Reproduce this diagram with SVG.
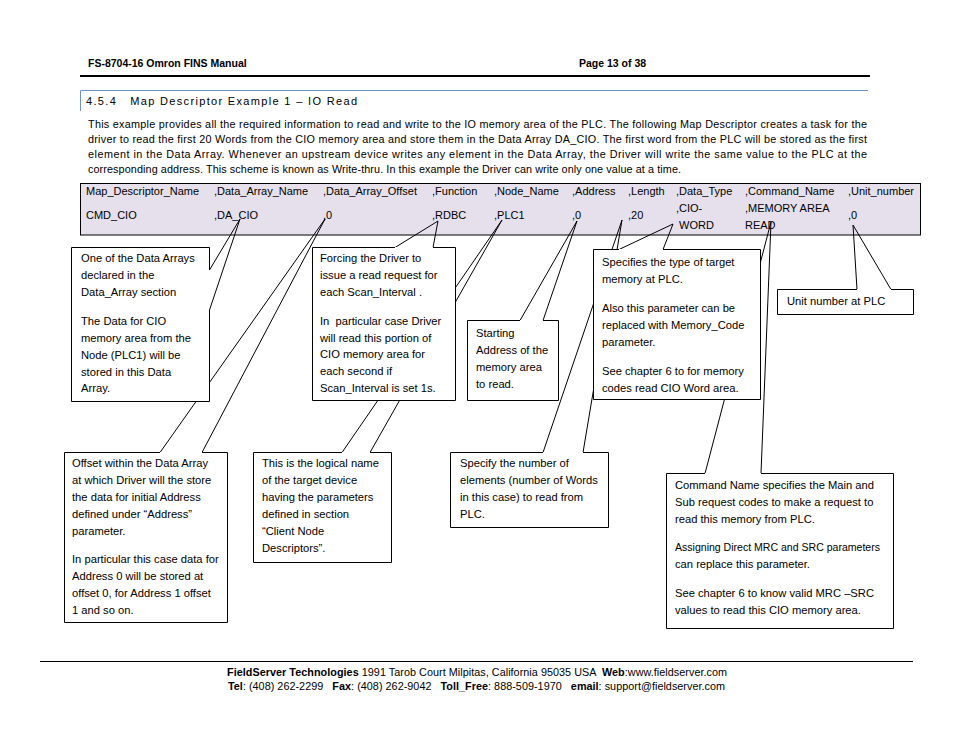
<svg xmlns="http://www.w3.org/2000/svg" width="954" height="738" viewBox="0 0 954 738">
<style>
.t{font-family:"Liberation Sans",Arial,sans-serif;font-size:11.2px;fill:#000}
.tb{font-family:"Liberation Sans",Arial,sans-serif;font-size:11px;fill:#000}
.h{font-family:"Liberation Sans",Arial,sans-serif;font-size:10.5px;font-weight:bold;fill:#000}
.body{font-family:"Liberation Sans",Arial,sans-serif;font-size:10.8px;fill:#000}
.ft{font-family:"Liberation Sans",Arial,sans-serif;font-size:10.8px;fill:#000;white-space:pre}
.bx{fill:#fff;stroke:none}
.ol{fill:none;stroke:#000;stroke-width:1}
.cn{fill:none;stroke:#000;stroke-width:1}
</style>
<rect width="954" height="738" fill="#fff"/>
<g id="page-header">
<text class="h" x="88" y="67">FS-8704-16 Omron FINS Manual</text>
<text class="h" x="579" y="67">Page 13 of 38</text>
<line x1="80" y1="76" x2="870" y2="76" stroke="#000" stroke-width="2"/>
</g>
<g id="heading">
<path d="M868,90.5 H80.5 V111" fill="none" stroke="#6f93c6" stroke-width="1"/>
<text class="tb" x="86" y="105" font-size="11.6" textLength="271" lengthAdjust="spacing" fill="#222" xml:space="preserve">4.5.4   Map Descriptor Example 1 – IO Read</text>
</g>
<g id="intro">
<text class="body" x="88" y="128" textLength="779" lengthAdjust="spacing">This example provides all the required information to read and write to the IO memory area of the PLC. The following Map Descriptor creates a task for the</text>
<text class="body" x="88" y="143" textLength="779" lengthAdjust="spacing">driver to read the first 20 Words from the CIO memory area and store them in the Data Array DA_CIO. The first word from the PLC will be stored as the first</text>
<text class="body" x="88" y="158" textLength="779" lengthAdjust="spacing">element in the Data Array. Whenever an upstream device writes any element in the Data Array, the Driver will write the same value to the PLC at the</text>
<text class="body" x="88" y="173" textLength="593" lengthAdjust="spacing">corresponding address. This scheme is known as Write-thru. In this example the Driver can write only one value at a time.</text>
</g>
<g id="table">
<rect x="80.5" y="183.5" width="840" height="51.5" fill="#e5e0ec" stroke="#000" stroke-width="1"/>
<text class="tb" y="195"><tspan x="86">Map_Descriptor_Name</tspan><tspan x="214">,Data_Array_Name</tspan><tspan x="323">,Data_Array_Offset</tspan><tspan x="432">,Function</tspan><tspan x="494">,Node_Name</tspan><tspan x="572">,Address</tspan><tspan x="628">,Length</tspan><tspan x="676">,Data_Type</tspan><tspan x="745">,Command_Name</tspan><tspan x="848">,Unit_number</tspan></text>
<text class="tb" y="219"><tspan x="86">CMD_CIO</tspan><tspan x="214">,DA_CIO</tspan><tspan x="323">,0</tspan><tspan x="432">,RDBC</tspan><tspan x="494">,PLC1</tspan><tspan x="572">,0</tspan><tspan x="628">,20</tspan><tspan x="848">,0</tspan></text>
<text class="tb" y="212"><tspan x="676">,CIO-</tspan><tspan x="745">,MEMORY AREA</tspan></text>
<text class="tb" y="229"><tspan x="679">WORD</tspan><tspan x="745">READ</tspan></text>
</g>
<g id="connectors">
<polyline class="cn" points="209.5,270 240,219 209.5,310"/>
<polyline class="cn" points="160,452.5 325,219 202,452.5"/>
<polyline class="cn" points="395,247.5 438,221 433,247.5"/>
<polyline class="cn" points="342,452.5 502,220 370,452.5"/>
<polyline class="cn" points="520,320.5 577,221 543,320.5"/>
<polyline class="cn" points="543,452.5 622,220 583,452.5"/>
<polyline class="cn" points="619,249.5 673,224 663,249.5"/>
<polyline class="cn" points="705,473.5 771,222 761,473.5"/>
<polyline class="cn" points="857,289.5 853,225 891,289.5"/>
</g>
<g id="note-offset">
<rect class="bx" x="64" y="452" width="163" height="170"/>
<path class="ol" d="M202,452.5 H227.5 V622.5 H64.5 V452.5 H160"/>
<text class="t" x="72"><tspan y="467">Offset within the Data Array</tspan><tspan x="72" y="484">at which Driver will the store</tspan><tspan x="72" y="501">the data for initial Address</tspan><tspan x="72" y="518">defined under “Address”</tspan><tspan x="72" y="535">parameter.</tspan><tspan x="72" y="563">In particular this case data for</tspan><tspan x="72" y="580">Address 0 will be stored at</tspan><tspan x="72" y="597">offset 0, for Address 1 offset</tspan><tspan x="72" y="614">1 and so on.</tspan></text>
</g>
<g id="note-array">
<rect class="bx" x="71" y="247" width="138" height="154"/>
<path class="ol" d="M209.5,310 V401.5 H71.5 V247.5 H209.5 V270"/>
<text class="t" x="81"><tspan y="262">One of the Data Arrays</tspan><tspan x="81" y="279">declared in the</tspan><tspan x="81" y="296">Data_Array section</tspan><tspan x="81" y="325">The Data for CIO</tspan><tspan x="81" y="342">memory area from the</tspan><tspan x="81" y="359">Node (PLC1) will be</tspan><tspan x="81" y="376">stored in this Data</tspan><tspan x="81" y="392">Array.</tspan></text>
</g>
<g id="note-node">
<rect class="bx" x="253" y="452" width="138" height="110"/>
<path class="ol" d="M370,452.5 H391.5 V562.5 H253.5 V452.5 H342"/>
<text class="t" x="262"><tspan y="467">This is the logical name</tspan><tspan x="262" y="484">of the target device</tspan><tspan x="262" y="501">having the parameters</tspan><tspan x="262" y="518">defined in section</tspan><tspan x="262" y="535">“Client Node</tspan><tspan x="262" y="552">Descriptors”.</tspan></text>
</g>
<g id="note-function">
<rect class="bx" x="312" y="247" width="143" height="153"/>
<path class="ol" d="M433,247.5 H455.5 V400.5 H312.5 V247.5 H395"/>
<text class="t" x="320" xml:space="preserve"><tspan y="262">Forcing the Driver to</tspan><tspan x="320" y="279">issue a read request for</tspan><tspan x="320" y="296">each Scan_Interval .</tspan><tspan x="320" y="325">In  particular case Driver</tspan><tspan x="320" y="342">will read this portion of</tspan><tspan x="320" y="358">CIO memory area for</tspan><tspan x="320" y="375">each second if</tspan><tspan x="320" y="392">Scan_Interval is set 1s.</tspan></text>
</g>
<g id="note-address">
<rect class="bx" x="467" y="320" width="91" height="80"/>
<path class="ol" d="M543,320.5 H558.5 V400.5 H467.5 V320.5 H520"/>
<text class="t" x="476"><tspan y="337">Starting</tspan><tspan x="476" y="354">Address of the</tspan><tspan x="476" y="371">memory area</tspan><tspan x="476" y="388">to read.</tspan></text>
</g>
<g id="note-length">
<rect class="bx" x="450" y="452" width="158" height="75"/>
<path class="ol" d="M583,452.5 H608.5 V527.5 H450.5 V452.5 H543"/>
<text class="t" x="460"><tspan y="467">Specify the number of</tspan><tspan x="460" y="484">elements (number of Words</tspan><tspan x="460" y="501">in this case) to read from</tspan><tspan x="460" y="518">PLC.</tspan></text>
</g>
<g id="note-command">
<rect class="bx" x="666" y="473" width="227" height="155"/>
<path class="ol" d="M761,473.5 H893.5 V628.5 H666.5 V473.5 H705"/>
<text class="t" x="675"><tspan y="489">Command Name specifies the Main and</tspan><tspan x="675" y="506">Sub request codes to make a request to</tspan><tspan x="675" y="523">read this memory from PLC.</tspan><tspan x="675" y="551" textLength="205" lengthAdjust="spacingAndGlyphs">Assigning Direct MRC and SRC parameters</tspan><tspan x="675" y="568">can replace this parameter.</tspan><tspan x="675" y="597">See chapter 6 to know valid MRC –SRC</tspan><tspan x="675" y="614">values to read this CIO memory area.</tspan></text>
</g>
<g id="note-datatype">
<rect class="bx" x="593" y="249" width="167" height="150"/>
<path class="ol" d="M663,249.5 H760.5 V399.5 H593.5 V249.5 H619"/>
<text class="t" x="602"><tspan y="266">Specifies the type of target</tspan><tspan x="602" y="283">memory at PLC.</tspan><tspan x="602" y="312">Also this parameter can be</tspan><tspan x="602" y="329">replaced with Memory_Code</tspan><tspan x="602" y="346">parameter.</tspan><tspan x="602" y="375">See chapter 6 to for memory</tspan><tspan x="602" y="392">codes read CIO Word area.</tspan></text>
</g>
<g id="note-unit">
<rect class="bx" x="777" y="289" width="136" height="25"/>
<path class="ol" d="M891,289.5 H913.5 V314.5 H777.5 V289.5 H857"/>
<text class="t" x="787" y="305">Unit number at PLC</text>
</g>
<g id="footer">
<line x1="40" y1="661.5" x2="913" y2="661.5" stroke="#000" stroke-width="1"/>
<text class="ft" x="227" y="676" textLength="500" lengthAdjust="spacing" xml:space="preserve"><tspan font-weight="bold">FieldServer Technologies</tspan> 1991 Tarob Court Milpitas, California 95035 USA  <tspan font-weight="bold">Web</tspan>:www.fieldserver.com</text>
<text class="ft" x="228" y="690" textLength="497" lengthAdjust="spacing" xml:space="preserve"><tspan font-weight="bold">Tel</tspan>: (408) 262-2299   <tspan font-weight="bold">Fax</tspan>: (408) 262-9042   <tspan font-weight="bold">Toll_Free</tspan>: 888-509-1970   <tspan font-weight="bold">email</tspan>: support@fieldserver.com</text>
</g>
</svg>
